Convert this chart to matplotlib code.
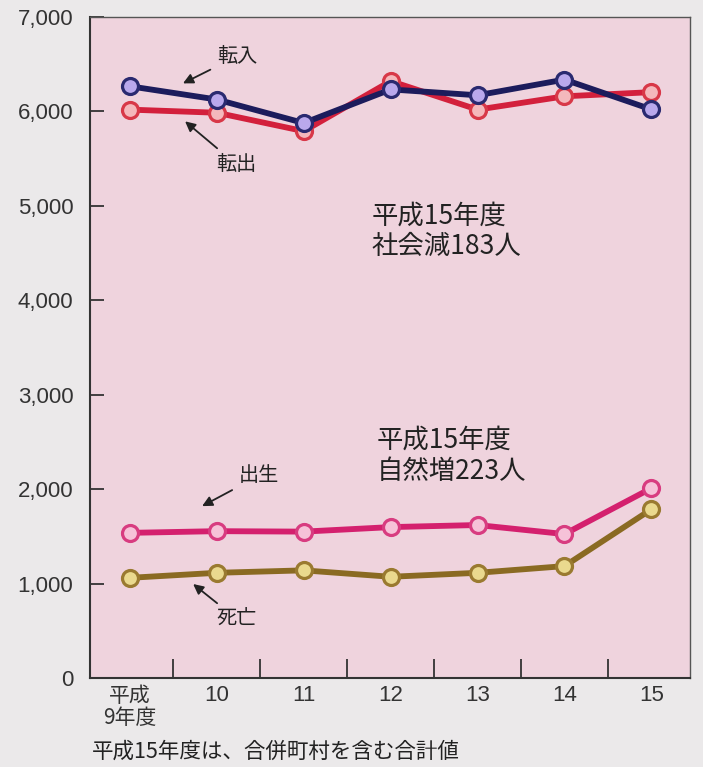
import numpy as np
import matplotlib.pyplot as plt

plt.rcParams['font.family'] = ['Noto Sans CJK JP', 'DejaVu Sans']

years = ['平成\n9年度', '10', '11', '12', '13', '14', '15']
tennyu = [6265, 6125, 5876, 6232, 6170, 6336, 6020]   # 転入
tenshutsu = [6018, 5985, 5790, 6320, 6018, 6159, 6203]  # 転出
shussei = [1537, 1555, 1550, 1598, 1620, 1524, 2010]   # 出生
shibou = [1061, 1114, 1140, 1072, 1114, 1185, 1787]    # 死亡

BG = '#ebe9ea'
PLOT_BG = '#efd3dd'
TXT = '#222222'
NUM_FONT = ['Liberation Sans', 'DejaVu Sans']

fig = plt.figure(figsize=(7.03, 7.67), dpi=100, facecolor=BG)
ax = fig.add_axes([0.128, 0.116, 0.853, 0.862])
ax.set_facecolor(PLOT_BG)

x = np.arange(len(years))

def draw_series(vals, line_col, face_col, edge_col):
    ax.plot(x, vals, color=line_col, lw=4.2, zorder=3, solid_joinstyle='round')
    ax.plot(x, vals, ls='none', marker='o', ms=11.5, mfc=face_col, mec=edge_col,
            mew=2.3, zorder=4)

draw_series(tenshutsu, '#d3203c', '#f4b8bc', '#d83848')
draw_series(tennyu, '#1c1c5c', '#b9a8ec', '#2a2a70')
draw_series(shussei, '#d4206e', '#f6c2d8', '#d83c80')
draw_series(shibou, '#8a6a22', '#ead98e', '#9a7a30')

ax.set_xlim(-0.46, 6.44)
ax.set_ylim(0, 7000)
ax.set_yticks(np.arange(0, 7001, 1000))
ax.set_yticklabels([f'{v:,}' for v in range(0, 7001, 1000)],
                   family=NUM_FONT, fontsize=16, color='#333333')
ax.tick_params(axis='y', direction='in', length=10, width=1.3, color='#333333', pad=12)

ax.set_xticks(x)
ax.set_xticklabels(years, fontsize=15, color='#333333', linespacing=1.0)
ax.set_xticks(np.arange(0.5, 6, 1), minor=True)
ax.tick_params(axis='x', which='major', length=0, pad=5)
ax.tick_params(axis='x', which='minor', direction='in', length=14, width=1.3, color='#333333')
for lbl in ax.get_xticklabels()[1:]:
    lbl.set_family(NUM_FONT)
    lbl.set_fontsize(16)

for side in ['left', 'bottom']:
    ax.spines[side].set_color('#333333')
    ax.spines[side].set_linewidth(1.5)
for side in ['top', 'right']:
    ax.spines[side].set_color('#555555')
    ax.spines[side].set_linewidth(1.0)

arrow = dict(arrowstyle='-|>', color=TXT, lw=1.3, mutation_scale=15, shrinkA=3, shrinkB=0)
ax.annotate('転入', xy=(0.61, 6296), xytext=(1.0, 6582), fontsize=14.5,
            va='center', ha='left', color=TXT, arrowprops=arrow)
ax.annotate('転出', xy=(0.634, 5894), xytext=(0.99, 5440), fontsize=14.5,
            va='center', ha='left', color=TXT, arrowprops=arrow)
ax.annotate('出生', xy=(0.83, 1820), xytext=(1.25, 2140), fontsize=14.5,
            va='center', ha='left', color=TXT, arrowprops=arrow)
ax.annotate('死亡', xy=(0.727, 995), xytext=(1.0, 624), fontsize=14.5,
            va='center', ha='left', color=TXT, arrowprops=arrow)

ax.text(2.78, 4730, '平成15年度\n社会減183人', fontsize=19, color=TXT,
        ha='left', va='center', linespacing=1.2)
ax.text(2.84, 2350, '平成15年度\n自然増223人', fontsize=19, color=TXT,
        ha='left', va='center', linespacing=1.2)

fig.text(0.131, 0.02, '平成15年度は、合併町村を含む合計値', fontsize=15.5,
         color=TXT, ha='left', va='center')

fig.savefig('out.png', dpi=100, facecolor=BG)
